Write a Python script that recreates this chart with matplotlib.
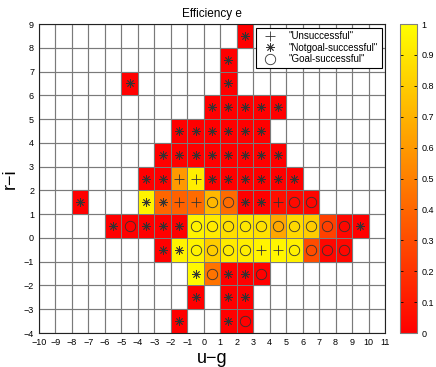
import matplotlib
matplotlib.use("Agg")
import matplotlib.pyplot as plt
import numpy as np

plt.rcParams['font.family'] = ['Liberation Sans', 'DejaVu Sans']

# cell centres (u-g, r-i), efficiency value and outcome kind, row by row from top
# kind: u = Unsuccessful, n = Notgoal-successful, g = Goal-successful
cell_x = [2.5,
          1.5,
          -4.5, 1.5,
          0.5, 1.5, 2.5, 3.5, 4.5,
          -1.5, -0.5, 0.5, 1.5, 2.5, 3.5,
          -2.5, -1.5, -0.5, 0.5, 1.5, 2.5, 3.5, 4.5,
          -3.5, -2.5, -1.5, -0.5, 0.5, 1.5, 2.5, 3.5, 4.5, 5.5,
          -7.5, -3.5, -2.5, -1.5, -0.5, 0.5, 1.5, 2.5, 3.5, 4.5, 5.5, 6.5,
          -5.5, -4.5, -3.5, -2.5, -1.5, -0.5, 0.5, 1.5, 2.5, 3.5, 4.5, 5.5, 6.5, 7.5, 8.5, 9.5,
          -2.5, -1.5, -0.5, 0.5, 1.5, 2.5, 3.5, 4.5, 5.5, 6.5, 7.5, 8.5,
          -0.5, 0.5, 1.5, 2.5, 3.5,
          -0.5, 1.5, 2.5,
          -1.5, 1.5, 2.5]
cell_y = ([8.5] + [7.5] + [6.5] * 2 + [5.5] * 5 + [4.5] * 6 + [3.5] * 8 + [2.5] * 10
          + [1.5] * 12 + [0.5] * 16 + [-0.5] * 12 + [-1.5] * 5 + [-2.5] * 3 + [-3.5] * 3)
efficiency = [0,
              0,
              0, 0,
              0, 0, 0, 0, 0,
              0, 0, 0, 0, 0, 0,
              0, 0, 0, 0, 0, 0, 0, 0,
              0, 0, 0.6, 0.93, 0, 0, 0, 0, 0, 0,
              0, 0.95, 0.4, 0.38, 0.42, 0.72, 0.42, 0, 0, 0.06, 0.04, 0.02,
              0, 0, 0, 0, 0, 0.95, 0.92, 0.87, 0.9, 0.88, 0.65, 0.85, 0.8, 0.25, 0.03, 0,
              0, 0.95, 0.95, 0.8, 0.92, 0.93, 0.95, 0.96, 0.94, 0.3, 0.03, 0.03,
              0.97, 0.45, 0, 0, 0,
              0, 0, 0,
              0, 0, 0]
kind = list("n"
            "n"
            "nn"
            "nnnnn"
            "nnnnnn"
            "nnnnnnnn"
            "nnuunnnnnn"
            "nnnuuggnnugg"
            "ngnnnggggggggggn"
            "nngggguugggg"
            "ngnng"
            "nnn"
            "nng")

x_ticks = list(range(-10, 12))
y_ticks = list(range(-4, 10))
cbar_ticks = [0, 0.1, 0.2, 0.3, 0.4, 0.5, 0.6, 0.7, 0.8, 0.9, 1]
cbar_labels = ['0', '0.1', '0.2', '0.3', '0.4', '0.5', '0.6', '0.7', '0.8', '0.9', '1']

# build masked grid for the colour cells
x_edges = np.arange(-10, 12)
y_edges = np.arange(-4, 10)
grid = np.full((len(y_edges) - 1, len(x_edges) - 1), np.nan)
for x, y, e in zip(cell_x, cell_y, efficiency):
    grid[int(np.floor(y)) + 4, int(np.floor(x)) + 10] = e
grid = np.ma.masked_invalid(grid)

fig = plt.figure(figsize=(4.36, 3.67), dpi=100)
ax = fig.add_axes([0.0894, 0.0926, 0.7936, 0.842])
cax = fig.add_axes([0.917, 0.0926, 0.039, 0.842])

mesh = ax.pcolormesh(x_edges, y_edges, grid, cmap='autumn', vmin=0, vmax=1,
                     edgecolors='#7a7a7a', linewidth=0.7)

styles = {'u': ('+', 7, '"Unsuccessful"'),
          'n': ((8, 2, 0), 6, '"Notgoal-successful"'),
          'g': ('o', 7.5, '"Goal-successful"')}
cell_x = np.array(cell_x)
cell_y = np.array(cell_y)
kind = np.array(kind)
for k in ['u', 'n', 'g']:
    m, ms, lab = styles[k]
    sel = kind == k
    ax.plot(cell_x[sel], cell_y[sel], linestyle='none', marker=m, markersize=ms,
            markerfacecolor='none', markeredgecolor='#333333', markeredgewidth=0.6,
            label=lab, zorder=3)

ax.set_xlim(-10, 11)
ax.set_ylim(-4, 9)
ax.set_xticks(x_ticks)
ax.set_yticks(y_ticks)
ax.tick_params(direction='in', length=3, labelsize=6.5, width=0.6, top=True, right=True)
ax.grid(True, color='#1a1a1a', linewidth=0.8)
ax.set_axisbelow(True)
for s in ax.spines.values():
    s.set_linewidth(0.8)
    s.set_color('#222222')

ax.set_title('Efficiency e', fontsize=8.5, pad=5)
ax.set_xlabel('u\u2212g', fontsize=13, labelpad=2)
ax.set_ylabel('r\u2212i', fontsize=13, labelpad=4)

leg = ax.legend(loc='upper right', bbox_to_anchor=(0.99, 0.987), borderaxespad=0,
                fontsize=7, fancybox=False, framealpha=1, edgecolor='black',
                handlelength=2.2, handletextpad=0.8, labelspacing=0.15,
                borderpad=0.35)
leg.get_frame().set_linewidth(0.8)

cb = fig.colorbar(mesh, cax=cax)
cb.set_ticks(cbar_ticks)
cb.set_ticklabels(cbar_labels)
cax.tick_params(direction='in', length=2.5, labelsize=6.5, width=0.6, left=True, right=True)
cb.outline.set_linewidth(0.8)
cb.outline.set_edgecolor('#808080')

fig.savefig('out.png', dpi=100)
